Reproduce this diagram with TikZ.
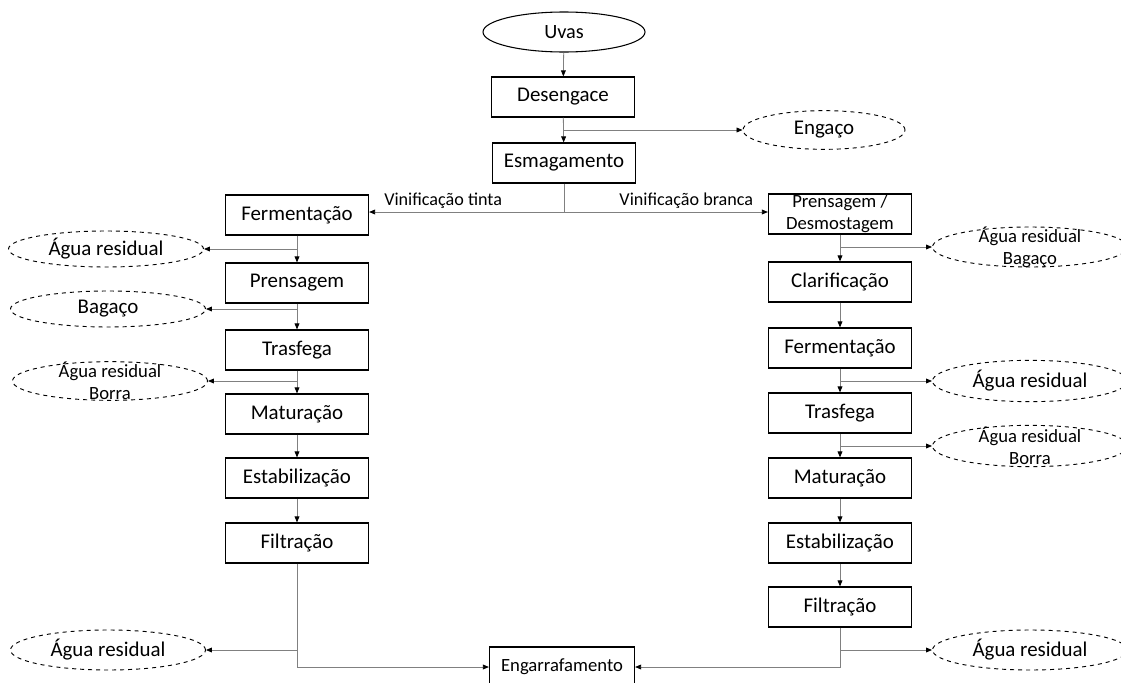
\documentclass[tikz,border=0pt]{standalone}
\usepackage{fontspec}
\setmainfont{Carlito}
\usetikzlibrary{arrows.meta,shapes.geometric}
\begin{document}
\begin{tikzpicture}[
        x=0.75pt, y=-0.75pt,
        every node/.style={black},
        stage/.style={draw, line width=0.9pt, minimum width=107.25pt, minimum height=30pt,
            inner sep=2pt, font=\fontsize{15.7}{18}\selectfont},
        start/.style={ellipse, draw, line width=0.8pt, minimum width=121.5pt, minimum height=30pt,
            inner sep=0pt, font=\fontsize{15.2}{18}\selectfont},
        waste/.style={ellipse, draw, dashed, line width=0.7pt, minimum width=146.25pt, minimum height=27pt,
            inner sep=0pt, font=\fontsize{15.7}{18}\selectfont},
        waste2/.style={waste, inner ysep=-6pt, minimum height=29pt, align=center,
            font=\fontsize{14}{16.5}\selectfont},
        note/.style={font=\fontsize{13.6}{15}\selectfont, inner sep=2.5pt},
        flow/.style={draw=black!50, line width=0.6pt, -{Triangle[length=4.5pt,width=3.6pt,color=black]}},
        line/.style={draw=black!50, line width=0.6pt}
    ]
    \useasboundingbox (0,0) rectangle (1121,682);

    % common trunk
    \node[start] (uvas) at (564,32) {Uvas};
    \node[stage] (des) at (563,97) {Desengace};
    \node[stage] (esm) at (564,163) {Esmagamento};
    \node[waste, minimum width=121.5pt, minimum height=29pt] (engaco) at (824,130) {Engaço};
    \coordinate (split) at (564,212);

    % red wine
    \node[stage] (ferm1) at (297,215) {Fermentação};
    \node[stage] (pren1) at (297,283) {Prensagem};
    \node[stage] (trasf1) at (297,350) {Trasfega};
    \node[stage] (mat1) at (297,414) {Maturação};
    \node[stage] (estab1) at (297,478) {Estabilização};
    \node[stage] (filt1) at (297,543) {Filtração};
    \node[waste] (agua1) at (106,249) {Água residual};
    \node[waste] (bag1) at (108,309) {Bagaço};
    \node[waste2] (borra1) at (110,381) {Água residual\\Borra};
    \node[waste, minimum height=30pt] (agua2) at (108,650) {Água residual};

    % white wine
    \node[stage, align=center, inner ysep=0pt, font=\fontsize{14}{16.5}\selectfont] (desmo) at (840,214) {Prensagem /\\Desmostagem};
    \node[stage] (clar) at (840,282) {Clarificação};
    \node[stage] (ferm2) at (840,348) {Fermentação};
    \node[stage] (trasf2) at (840,413) {Trasfega};
    \node[stage] (mat2) at (840,478) {Maturação};
    \node[stage] (estab2) at (840,543) {Estabilização};
    \node[stage] (filt2) at (840,607) {Filtração};
    \node[waste2, minimum height=30pt] (bag2) at (1030,247) {Água residual\\Bagaço};
    \node[waste, minimum height=31pt] (agua3) at (1030,381) {Água residual};
    \node[waste2, minimum height=31pt] (borra2) at (1030,446) {Água residual\\Borra};
    \node[waste, minimum height=30pt] (agua4) at (1030,650) {Água residual};

    \node[stage, minimum width=108.75pt, font=\fontsize{14}{16.5}\selectfont] (engarraf) at (562,667) {Engarrafamento};

    \draw[flow] (uvas) -- (des);
    \draw[flow] (des) -- (esm);
    \draw[flow] (des.south |- engaco) -- (engaco);
    \draw[line] (esm) -- (split);
    \draw[flow] (split) -- (split -| ferm1.east) node[note, pos=0.62, above] (tinta) {Vinificação tinta};
    \draw[flow] (split) -- (split -| desmo.west) node[note, pos=0.6, above] (branca) {Vinificação branca};

    \draw[flow] (ferm1) -- (pren1);
    \draw[flow] (pren1) -- (trasf1);
    \draw[flow] (trasf1) -- (mat1);
    \draw[flow] (mat1) -- (estab1);
    \draw[flow] (estab1) -- (filt1);
    \draw[flow] (ferm1 |- agua1) -- (agua1);
    \draw[flow] (pren1 |- bag1) -- (bag1);
    \draw[flow] (trasf1 |- borra1) -- (borra1);
    \draw[flow] (filt1 |- agua2) -- (agua2);
    \draw[flow] (filt1) |- (engarraf);

    \draw[flow] (desmo) -- (clar);
    \draw[flow] (clar) -- (ferm2);
    \draw[flow] (ferm2) -- (trasf2);
    \draw[flow] (trasf2) -- (mat2);
    \draw[flow] (mat2) -- (estab2);
    \draw[flow] (estab2) -- (filt2);
    \draw[flow] (desmo |- bag2) -- (bag2);
    \draw[flow] (ferm2 |- agua3) -- (agua3);
    \draw[flow] (trasf2 |- borra2) -- (borra2);
    \draw[flow] (filt2 |- agua4) -- (agua4);
    \draw[flow] (filt2) |- (engarraf);
\end{tikzpicture}
\end{document}
